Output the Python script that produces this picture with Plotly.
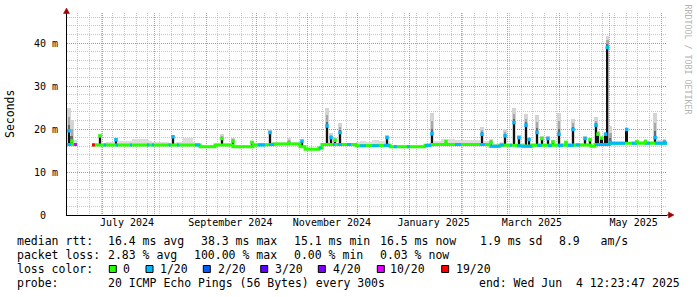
import numpy as np
import pandas as pd
import plotly.graph_objects as go

# ---------------- data ----------------
x_start = "2024-06-09 12:23:47"
x_end = "2025-06-04 12:23:47"

# median rtt baseline: each step starts at seg_start and lasts until the next one (None = no data)
seg_start = [
    "2024-06-09 12:00", "2024-06-10 02:00", "2024-06-11 22:00", "2024-06-13 16:00", "2024-06-15 12:00",
    "2024-06-24 12:00", "2024-06-26 08:00", "2024-07-01 16:00", "2024-07-02 22:00", "2024-07-08 22:00",
    "2024-07-10 02:00", "2024-07-17 08:00", "2024-07-18 12:00", "2024-07-27 12:00", "2024-07-28 16:00",
    "2024-07-30 12:00", "2024-07-31 16:00", "2024-08-09 12:00", "2024-08-10 16:00", "2024-08-14 12:00",
    "2024-08-15 16:00", "2024-08-18 02:00", "2024-08-24 02:00", "2024-08-25 08:00", "2024-08-28 08:00",
    "2024-09-06 08:00", "2024-09-17 02:00", "2024-09-29 02:00", "2024-10-02 02:00", "2024-10-06 08:00",
    "2024-10-08 16:00", "2024-10-11 16:00", "2024-10-20 00:00", "2024-10-22 00:00", "2024-10-27 08:00",
    "2024-10-30 08:00", "2024-11-07 16:00", "2024-11-09 12:00", "2024-11-16 02:00", "2024-11-17 08:00",
    "2024-11-19 02:00", "2024-11-21 12:00", "2024-11-24 12:00", "2024-11-26 22:00", "2024-11-29 22:00",
    "2024-12-02 08:00", "2024-12-05 22:00", "2024-12-09 12:00", "2024-12-13 16:00", "2024-12-16 16:00",
    "2024-12-20 08:00", "2024-12-22 16:00", "2024-12-24 12:00", "2024-12-30 12:00", "2025-01-01 08:00",
    "2025-01-10 08:00", "2025-01-13 22:00", "2025-01-20 00:00", "2025-01-28 08:00", "2025-01-31 22:00",
    "2025-02-12 08:00", "2025-02-15 08:00", "2025-02-18 08:00", "2025-02-24 08:00", "2025-02-26 16:00",
    "2025-03-02 08:00", "2025-03-03 12:00", "2025-03-06 12:00", "2025-03-09 12:00", "2025-03-15 12:00",
    "2025-03-18 12:00", "2025-03-21 12:00", "2025-03-25 02:00", "2025-03-27 12:00", "2025-03-31 02:00",
    "2025-04-03 02:00", "2025-04-06 02:00", "2025-04-09 16:00", "2025-04-10 22:00", "2025-04-13 08:00",
    "2025-04-19 22:00", "2025-04-22 08:00", "2025-05-01 08:00", "2025-05-10 08:00", "2025-05-14 12:00",
    "2025-05-17 12:00", "2025-05-22 08:00", "2025-05-25 08:00", "2025-05-28 08:00", "2025-06-02 02:00",
]
seg_median = [
    16.4, 16.4, 16.4, 16.4, None,
    16.3, 16.3, 16.3, 16.3, 16.3,
    16.3, 16.3, 16.3, 16.3, 16.3,
    16.3, 16.3, 16.3, 16.3, 16.3,
    16.3, 16.3, 16.3, 16.3, 15.9,
    16.3, 15.9, 16.3, 16.3, 16.3,
    16.4, 16.5, 16.5, 16.5, 15.9,
    15.3, 15.6, 16.4, 16.4, 16.4,
    16.4, 16.4, 16.4, 16.4, 16.1,
    16.1, 16.1, 16.1, 16.1, 16.2,
    15.9, 15.9, 15.9, 15.9, 15.9,
    16.2, 16.4, 16.4, 16.4, 16.4,
    16.4, 16.4, 16.0, 16.3, 16.2,
    16.2, 16.2, 16.1, 16.0, 16.2,
    16.2, 16.2, 16.1, 16.2, 16.2,
    16.2, 16.2, 16.3, 16.3, 16.3,
    16.0, 16.4, 16.7, 16.7, 16.7,
    16.7, 16.7, 16.7, 16.7, 16.7,
]
seg_loss = [
    0, 1, 0, 10, 0,
    19, 0, 1, 0, 1,
    0, 1, 0, 1, 0,
    1, 0, 1, 0, 1,
    0, 0, 0, 1, 0,
    0, 0, 0, 1, 0,
    1, 0, 0, 0, 0,
    0, 1, 0, 1, 0,
    1, 0, 1, 0, 0,
    1, 0, 1, 0, 1,
    0, 1, 0, 1, 0,
    1, 0, 0, 1, 0,
    1, 0, 1, 1, 0,
    1, 0, 1, 1, 0,
    1, 0, 1, 0, 1,
    0, 1, 0, 1, 0,
    0, 1, 1, 0, 1,
    0, 1, 0, 1, 1,
]
seg_smoke = [
    17.0, 17.0, 17.4, 17.4, None,
    16.6, 16.8, 16.8, 16.9, 17.0,
    17.3, 17.3, 17.6, 17.4, 17.2,
    17.0, 17.0, 16.8, 16.8, 16.9,
    16.9, 17.9, 16.9, 16.8, 16.3,
    16.7, 16.3, 16.7, 16.8, 16.8,
    17.0, 16.9, 17.4, 16.9, 16.2,
    15.6, 15.9, 16.8, 16.8, 16.8,
    16.8, 16.8, 16.8, 16.8, 17.0,
    17.2, 17.0, 17.5, 17.2, 17.3,
    16.3, 16.4, 16.4, 16.4, 16.4,
    16.6, 17.3, 17.7, 17.4, 17.4,
    17.2, 17.2, 16.6, 16.9, 16.8,
    16.8, 16.8, 16.7, 16.7, 16.8,
    16.8, 16.8, 16.7, 16.8, 16.8,
    16.8, 16.8, 16.8, 16.8, 16.8,
    16.4, 16.9, 17.0, 17.0, 17.1,
    17.2, 17.2, 17.3, 17.4, 17.0,
]

# latency spikes
spike_date = [
    "2024-06-10 16:00", "2024-06-12 12:00", "2024-06-29 08:00", "2024-07-08 22:00", "2024-08-12 02:00",
    "2024-09-10 12:00", "2024-09-17 02:00", "2024-09-28 12:00", "2024-10-09 08:00", "2024-10-20 16:00",
    "2024-10-28 12:00", "2024-11-12 12:00", "2024-11-14 22:00", "2024-11-17 08:00", "2024-11-20 08:00",
    "2024-12-18 12:00", "2025-01-14 12:00", "2025-01-22 22:00", "2025-02-13 12:00", "2025-02-18 22:00",
    "2025-02-27 08:00", "2025-03-04 16:00", "2025-03-07 16:00", "2025-03-11 22:00", "2025-03-13 16:00",
    "2025-03-18 12:00", "2025-03-21 12:00", "2025-03-25 02:00", "2025-03-28 02:00", "2025-03-31 16:00",
    "2025-04-04 22:00", "2025-04-09 02:00", "2025-04-16 08:00", "2025-04-19 08:00", "2025-04-22 22:00",
    "2025-04-24 02:00", "2025-04-26 08:00", "2025-04-28 16:00", "2025-04-29 16:00", "2025-05-01 12:00",
    "2025-05-11 08:00", "2025-05-17 12:00", "2025-05-22 12:00", "2025-05-28 08:00", "2025-06-03 02:00",
]
spike_median = [
    19.6, 17.2, 18.4, 17.5, 18.2,
    17.8, 17.2, 16.9, 19.2, 16.8,
    17.2, 20.7, 18.0, 17.4, 19.2,
    18.0, 18.9, 17.0, 18.8, 16.9,
    18.4, 21.5, 18.0, 20.9, 17.6,
    19.2, 17.8, 17.8, 17.0, 18.8,
    16.9, 19.9, 17.8, 17.5, 20.9,
    18.8, 17.9, 18.8, 39.0, 16.9,
    19.9, 17.0, 17.0, 18.0, 16.9,
]
spike_top = [
    25.0, 22.0, 18.8, 18.0, 18.7,
    18.8, 17.9, 17.2, 19.9, 18.0,
    17.5, 24.8, 19.0, 18.0, 21.3,
    18.6, 23.8, 17.6, 20.4, 17.8,
    19.9, 25.0, 18.5, 23.4, 18.0,
    23.3, 18.3, 18.3, 17.4, 23.8,
    17.3, 22.3, 18.4, 17.7, 22.7,
    19.5, 18.2, 19.2, 41.7, 20.7,
    20.3, 17.5, 17.6, 23.8, 17.8,
]
spike_loss = [
    1, 0, 0, 1, 1,
    0, 0, 0, 1, 0,
    1, 1, 1, 0, 1,
    1, 1, 0, 1, 0,
    1, 1, 1, 1, 1,
    1, 0, 1, 0, 1,
    0, 1, 1, 0, 1,
    0, 0, 1, 1, 1,
    1, 0, 0, 1, 1,
]

loss_levels = [0, 1, 2, 3, 4, 10, 19]
loss_labels = ["0", "1/20", "2/20", "3/20", "4/20", "10/20", "19/20"]
loss_colors = ["#26ff00", "#00b8ff", "#0059ff", "#5e00ff", "#7e00ff", "#dd00ff", "#ff0000"]

month_label_dates = ["2024-07-15 12:00", "2024-09-15 12:00", "2024-11-15 12:00",
                     "2025-01-15 12:00", "2025-03-15 12:00", "2025-05-15 12:00"]
month_labels = ["July 2024", "September 2024", "November 2024",
                "January 2025", "March 2025", "May 2025"]
y_tick_vals = [0, 10, 20, 30, 40]
y_tick_text = ["0\u00a0\u00a0", "10 m", "20 m", "30 m", "40 m"]

legend_rtt = ["median rtt:", "16.4 ms avg", "38.3 ms max", "15.1 ms min", "16.5 ms now", "1.9 ms sd", "8.9   am/s"]
legend_loss = ["packet loss:", "2.83 % avg", "100.00 % max", "0.00 % min", "0.03 % now"]
legend_color_title = "loss color:"
legend_probe = ["probe:", "20 ICMP Echo Pings (56 Bytes) every 300s", "end: Wed Jun  4 12:23:47 2025"]
watermark = "RRDTOOL / TOBI OETIKER"
y_title = "Seconds"

# ---------------- layout constants ----------------
W, H = 697, 297
L, R, T, B = 67, 30, 13, 82
PW, PH = W - L - R, H - T - B
MONO = "DejaVu Sans Mono"


def px(xp):
    return (xp - L) / PW


def py(yp):
    return (H - B - yp) / PH


def nb(s):
    return s.replace(" ", "\u00a0")


color_of = dict(zip(loss_levels, loss_colors))
seg_t = pd.to_datetime(seg_start)
seg_end = list(seg_t[1:]) + [pd.Timestamp(x_end)]
DAY = 86400000

fig = go.Figure()

# light smoke band above the median
sm_x, sm_w, sm_b, sm_h = [], [], [], []
for s, e, m, sm in zip(seg_t, seg_end, seg_median, seg_smoke):
    if m is None:
        continue
    sm_x.append(s + (e - s) / 2)
    sm_w.append((e - s).total_seconds() * 1000)
    sm_b.append(m)
    sm_h.append(sm - m)
fig.add_trace(go.Bar(x=sm_x, y=sm_h, base=sm_b, width=sm_w,
                     marker=dict(color="#dddddd", line_width=0), hoverinfo="skip"))

# spikes: smoke layers, dark core
sp_t = pd.to_datetime(spike_date)
idx = np.searchsorted(seg_t.values, sp_t.values, side="right") - 1
sp_base = [seg_median[i] if seg_median[i] is not None else 16.4 for i in idx]
for frac, col, wd in [(1.0, "#d4d4d4", 2.0), (0.6, "#a8a8a8", 1.5), (0.25, "#6a6a6a", 1.2)]:
    tops = [m + frac * (t - m) for m, t in zip(spike_median, spike_top)]
    fig.add_trace(go.Bar(x=sp_t, y=[tp - b for tp, b in zip(tops, sp_base)], base=sp_base,
                         width=wd * DAY, marker=dict(color=col, line_width=0), hoverinfo="skip"))
fig.add_trace(go.Bar(x=sp_t, y=[m - b for m, b in zip(spike_median, sp_base)], base=sp_base,
                     width=1.0 * DAY, marker=dict(color="#111111", line_width=0), hoverinfo="skip"))

# median line (green underlay, then loss colours)
mx, my = [], []
for s, e, m in zip(seg_t, seg_end, seg_median):
    if m is None:
        mx.append(None)
        my.append(None)
        continue
    mx += [s, e]
    my += [m, m]
fig.add_trace(go.Scatter(x=mx, y=my, mode="lines", line=dict(color=color_of[0], width=3),
                         connectgaps=False, hoverinfo="skip"))
for lv in loss_levels[1:]:
    xs, ys = [], []
    for s, e, m, l in zip(seg_t, seg_end, seg_median, seg_loss):
        if m is not None and l == lv:
            xs += [s, e, None]
            ys += [m, m, None]
    if xs:
        fig.add_trace(go.Scatter(x=xs, y=ys, mode="lines", line=dict(color=color_of[lv], width=3),
                                 connectgaps=False, hoverinfo="skip"))

fig.add_trace(go.Scatter(x=sp_t, y=spike_median, mode="markers",
                         marker=dict(symbol="square", size=3.5, color=[color_of[l] for l in spike_loss],
                                     line_width=0), hoverinfo="skip"))

# invisible trace to carry the label axis
fig.add_trace(go.Scatter(x=[x_start], y=[0], xaxis="x2", mode="markers",
                         marker=dict(opacity=0), hoverinfo="skip"))

RED = "rgba(222,120,120,0.85)"
GRAY = "rgba(190,190,190,0.9)"
DASH = "1px,1px"

fig.update_layout(
    width=W, height=H, margin=dict(l=L, r=R, t=T, b=B, autoexpand=False),
    paper_bgcolor="white", plot_bgcolor="white", showlegend=False, barmode="overlay",
    bargap=0,
    xaxis=dict(type="date", range=[x_start, x_end], showgrid=True, gridcolor=RED, griddash=DASH,
               gridwidth=1, tickmode="linear", tick0="2024-07-01", dtick="M1",
               showticklabels=False, ticks="", showline=True, linecolor="#000000", linewidth=1,
               zeroline=False, fixedrange=True,
               minor=dict(showgrid=True, dtick=7 * DAY, tick0="2024-06-02", gridcolor=GRAY,
                          griddash=DASH, gridwidth=1)),
    xaxis2=dict(type="date", range=[x_start, x_end], overlaying="x", anchor="y", side="bottom",
                tickmode="array", tickvals=month_label_dates, ticktext=month_labels,
                showgrid=False, showline=False, zeroline=False, ticks="",
                tickfont=dict(family=MONO, size=10, color="#000000")),
    yaxis=dict(range=[0, 47], tickmode="array", tickvals=y_tick_vals, ticktext=y_tick_text,
               showgrid=True, gridcolor=RED, griddash=DASH, gridwidth=1,
               showline=True, linecolor="#000000", linewidth=1, ticks="", zeroline=False,
               ticklabelstandoff=6,
               tickfont=dict(family=MONO, size=10, color="#000000"),
               minor=dict(showgrid=True, dtick=2, gridcolor=GRAY, griddash=DASH, gridwidth=1)),
)

ann = []
font_leg = dict(family=MONO, size=11.5, color="#000000")


def add_text(xp, yp, s, **kw):
    d = dict(x=px(xp), y=py(yp), xref="paper", yref="paper", text=nb(s), showarrow=False,
             xanchor="left", yanchor="middle", font=font_leg, borderpad=0)
    d.update(kw)
    ann.append(d)


rtt_x = [16, 107, 200, 293, 379, 479, 558]
for xp, s in zip(rtt_x, legend_rtt):
    add_text(xp, 241, s)
loss_x = [16, 107, 192.5, 293, 379]
for xp, s in zip(loss_x, legend_loss):
    add_text(xp, 255, s)
add_text(16, 269, legend_color_title)
box_x = [109.3, 146, 203.3, 260.7, 318.3, 377.3, 441.7]
lab_x = [121.5, 159, 216.5, 274, 331.5, 389, 455]
shapes = []
for bx, lx, lab, col in zip(box_x, lab_x, loss_labels, loss_colors):
    shapes.append(dict(type="rect", xref="paper", yref="paper", x0=px(bx), x1=px(bx + 7),
                       y0=py(265.5), y1=py(272.5), fillcolor=col, line=dict(color="#000000", width=1)))
    add_text(lx, 269, lab)
probe_x = [16, 107, 478]
for xp, s in zip(probe_x, legend_probe):
    add_text(xp, 283, s)

ann.append(dict(x=px(10), y=py(114), xref="paper", yref="paper", text=y_title, showarrow=False,
                textangle=-90, xanchor="center", yanchor="middle", font=dict(family=MONO, size=11.5, color="#000000")))
ann.append(dict(x=px(687.5), y=py(59), xref="paper", yref="paper", text=nb(watermark), showarrow=False,
                textangle=90, xanchor="center", yanchor="middle", font=dict(family=MONO, size=8.3, color="#b4b4b4")))

# axis arrows
ARROW = "#a00000"
shapes.append(dict(type="path", xref="paper", yref="paper", fillcolor=ARROW, line=dict(color=ARROW, width=0.5),
                   path=f"M {px(63.5)} {py(13.5)} L {px(66.5)} {py(8)} L {px(69.5)} {py(13.5)} Z"))
shapes.append(dict(type="line", xref="paper", yref="paper", x0=px(667), x1=px(669), y0=py(215), y1=py(215),
                   line=dict(color="#000000", width=1)))
shapes.append(dict(type="path", xref="paper", yref="paper", fillcolor=ARROW, line=dict(color=ARROW, width=0.5),
                   path=f"M {px(668.5)} {py(212)} L {px(674)} {py(215)} L {px(668.5)} {py(218)} Z"))

fig.update_layout(annotations=ann, shapes=shapes)
fig.write_html("out.html")
